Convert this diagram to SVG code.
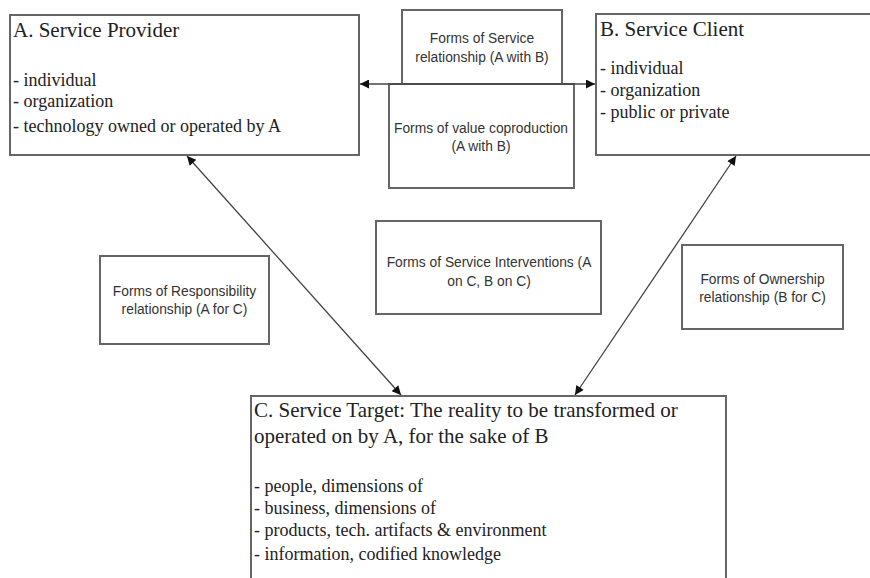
<svg xmlns="http://www.w3.org/2000/svg" width="870" height="578" viewBox="0 0 870 578">
<style>
.box{fill:#fff;stroke:#666;stroke-width:2}
.ttl{font-family:"Liberation Serif","Times New Roman",serif;font-size:21px;fill:#222}
.lst{font-family:"Liberation Serif","Times New Roman",serif;font-size:18px;fill:#222}
.sm{font-family:"Liberation Sans",Arial,sans-serif;font-size:13.8px;fill:#333;text-anchor:middle}
.con{stroke:#444;stroke-width:1.3;fill:none;marker-start:url(#ah);marker-end:url(#ah)}
</style>
<defs>
<marker id="ah" viewBox="0 0 10 10" refX="10" refY="5" markerWidth="11" markerHeight="9" markerUnits="userSpaceOnUse" orient="auto-start-reverse">
<path d="M0,0 L10,5 L0,10 z" fill="#111"/>
</marker>
</defs>
<rect width="870" height="578" fill="#fff"/>

<g id="nodeA">
<rect class="box" x="10" y="15" width="349" height="140"/>
<text class="ttl" x="13" y="37">A. Service Provider</text>
<text class="lst" x="13" y="86">- individual</text>
<text class="lst" x="13" y="107">- organization</text>
<text class="lst" x="13" y="132">- technology owned or operated by A</text>
</g>

<g id="nodeB">
<rect class="box" x="596" y="14" width="290" height="141"/>
<text class="ttl" x="600" y="36">B. Service Client</text>
<text class="lst" x="600" y="74">- individual</text>
<text class="lst" x="600" y="96">- organization</text>
<text class="lst" x="600" y="118">- public or private</text>
</g>

<g id="nodeValue">
<rect class="box" x="389" y="84" width="185" height="104"/>
<text class="sm" x="481" y="133">Forms of value coproduction</text>
<text class="sm" x="481" y="151">(A with B)</text>
</g>

<g id="nodeServiceRel">
<rect class="box" x="402" y="10" width="160" height="74"/>
<text class="sm" x="482" y="43">Forms of Service</text>
<text class="sm" x="482" y="62">relationship (A with B)</text>
</g>

<g id="nodeResp">
<rect class="box" x="100" y="256" width="169" height="88"/>
<text class="sm" x="184.5" y="296">Forms of Responsibility</text>
<text class="sm" x="184.5" y="314">relationship (A for C)</text>
</g>

<g id="nodeInterv">
<rect class="box" x="376" y="221" width="225" height="93"/>
<text class="sm" x="489" y="267">Forms of Service Interventions (A</text>
<text class="sm" x="489" y="286">on C, B on C)</text>
</g>

<g id="nodeOwn">
<rect class="box" x="682" y="245" width="161" height="84"/>
<text class="sm" x="762.5" y="284">Forms of Ownership</text>
<text class="sm" x="762.5" y="302">relationship (B for C)</text>
</g>

<g id="nodeC">
<rect class="box" x="251" y="396" width="475" height="200"/>
<text class="ttl" x="254" y="417">C. Service Target: The reality to be transformed or</text>
<text class="ttl" x="254" y="443">operated on by A, for the sake of B</text>
<text class="lst" x="254" y="492">- people, dimensions of</text>
<text class="lst" x="254" y="514">- business, dimensions of</text>
<text class="lst" x="254" y="536">- products, tech. artifacts &amp; environment</text>
<text class="lst" x="254" y="560">- information, codified knowledge</text>
</g>

<g id="connectors">
<line class="con" x1="360" y1="84" x2="595" y2="84"/>
<line class="con" x1="187" y1="156" x2="401" y2="395"/>
<line class="con" x1="736" y1="156" x2="575" y2="395"/>
</g>
</svg>
